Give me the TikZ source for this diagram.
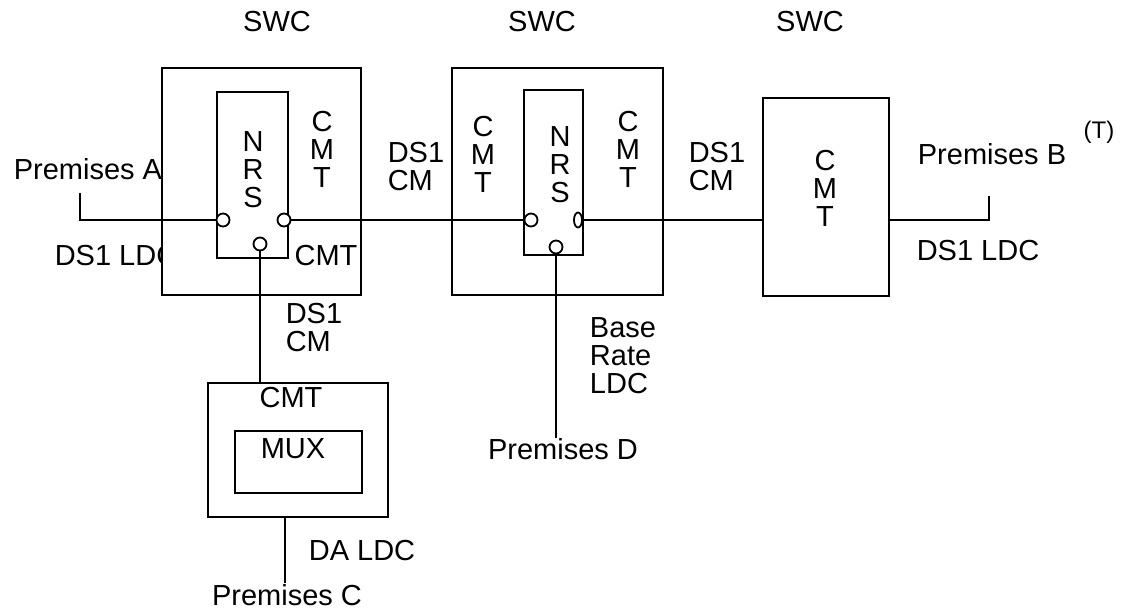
\documentclass[tikz,border=0pt]{standalone}
\usepackage{fontspec}
\setmainfont{Liberation Sans}
\usetikzlibrary{shapes.geometric,positioning,calc}

\begin{document}
\begin{tikzpicture}[
    x=1pt, y=-1pt,
    every node/.style={font=\fontsize{29}{28}\selectfont, inner sep=0pt},
    box/.style={rectangle, draw, line width=2.3pt, fill=white},
    port/.style={circle, draw, line width=1.8pt, fill=white, minimum size=13pt},
    stack/.style={align=center},
    lbl/.style={align=left},
    wire/.style={line width=2.3pt}
]
\useasboundingbox (0,0) rectangle (1126,610);

% Labels that the left switch box partly covers
\node (premA) at (88,169) {Premises A};
\node (ldcA) at (116,256) {DS1 LDC};

% Switching centres
\node[box, minimum width=199pt, minimum height=227pt] (swc1) at (261.5,181.5) {};
\node[box, minimum width=211pt, minimum height=227pt] (swc2) at (557.5,181.5) {};
\node[box, minimum width=126pt, minimum height=198pt] (swc3) at (826,197) {};
\node (swcA) at (277,22) {SWC};
\node (swcB) at (542,22) {SWC};
\node (swcC) at (810,22) {SWC};

% NRS blocks
\node[box, minimum width=71pt, minimum height=166pt] (nrs1) at (252.5,175) {};
\node[box, minimum width=59pt, minimum height=165pt] (nrs2) at (553.5,172.5) {};
\node[stack] (nrs1txt) at (253,169.5) {N\\R\\S};
\node[stack] (nrs2txt) at (560,165) {N\\R\\S};

% CMT texts in the switch boxes
\node[stack] (cmt1) at (322,149) {C\\M\\T};
\node (cmt1b) at (326,256) {CMT};
\node[stack] (cmt2l) at (483,154) {C\\M\\T};
\node[stack] (cmt2r) at (628,149) {C\\M\\T};
\node[stack] (cmt3) at (825,188) {C\\M\\T};

% Ports
\node[port] (p1l) at (223,220) {};
\node[port] (p1r) at (284,220) {};
\node[port] (p1b) at (260,244) {};
\node[port] (p2l) at (531,220) {};
\node[ellipse, draw, line width=1.8pt, fill=white, minimum width=8pt, minimum height=15pt] (p2r) at (578,220) {};
\node[port] (p2b) at (556,247) {};

% Multiplexer site
\node[box, minimum width=180pt, minimum height=134pt] (cmt) at (298,450) {};
\node (cmttxt) at (291,398) {CMT};
\node[box, minimum width=127pt, minimum height=62pt] (mux) at (298.5,462) {};
\node (muxtxt) at (293,449) {MUX};

% Line labels
\node[lbl] (cm1) at (416,167) {DS1\\CM};
\node[lbl] (cm2) at (717,167) {DS1\\CM};
\node[lbl] (cm3) at (314,328) {DS1\\CM};
\node (premB) at (992,154) {Premises B};
\node[font=\fontsize{24}{26}\selectfont] (tmark) at (1099,132) {(T)};
\node (ldcB) at (978,251) {DS1 LDC};
\node[lbl] (base) at (623,356) {Base\\Rate\\LDC};
\node (premD) at (563,449) {Premises D};
\node (daldc) at (362,551) {DA LDC};
\node (premC) at (287,595) {Premises C};

% Connections
\coordinate (pa) at (80,193);
\coordinate (pb) at (989,196);
\coordinate (pc) at (285,583);
\coordinate (pd) at (556,438);
\draw[wire] (pa) |- (p1l);
\draw[wire] (p1r) -- (p2l);
\draw[wire] (p2r) -- (swc3.west |- p2r);
\draw[wire] (swc3.east |- p2r) -| (pb);
\draw[wire] (p1b) -- (p1b |- cmt.north);
\draw[wire] (cmt.south -| pc) -- (pc);
\draw[wire] (p2b) -- (pd);

\end{tikzpicture}
\end{document}
